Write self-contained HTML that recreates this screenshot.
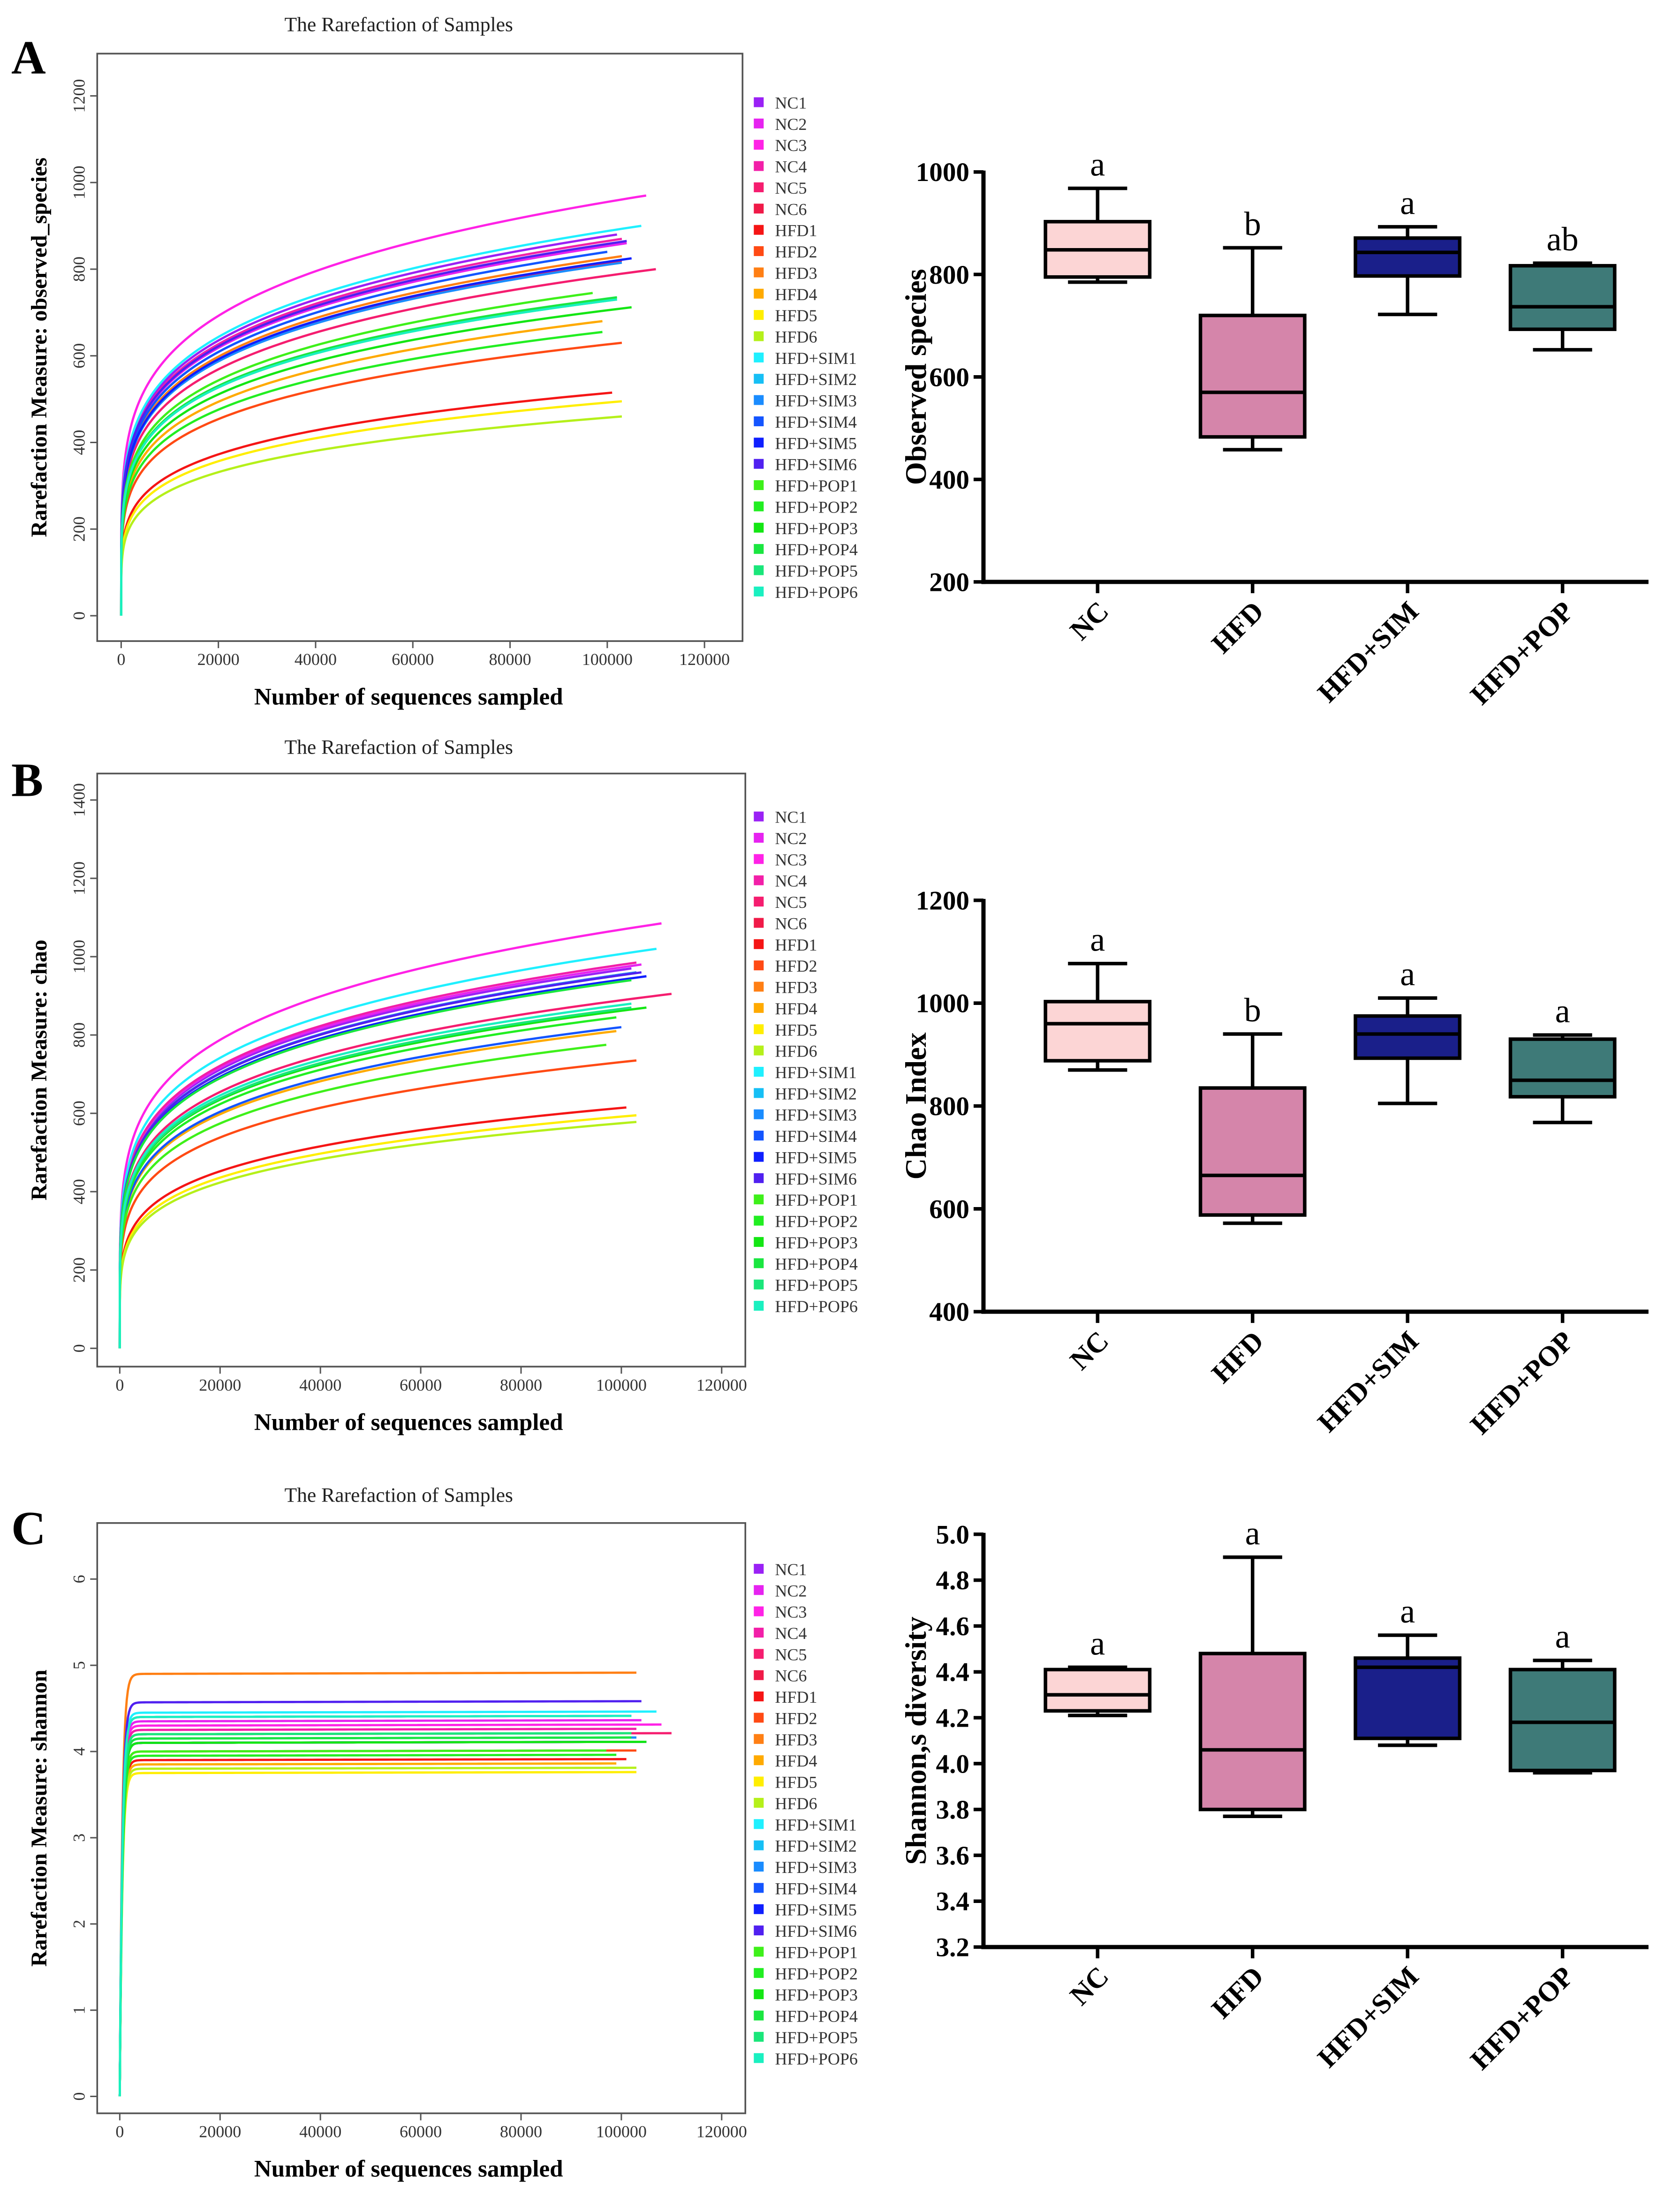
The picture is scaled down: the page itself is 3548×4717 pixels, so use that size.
<!DOCTYPE html>
<html><head><meta charset="utf-8"><style>
html,body{margin:0;padding:0;background:#fff;}
svg{display:block;font-family:"Liberation Serif","DejaVu Serif",serif;}
text{font-family:"Liberation Serif","DejaVu Serif",serif;}
</style></head><body>
<svg id="fig" width="3548" height="4717" viewBox="0 0 1181 1570" xmlns="http://www.w3.org/2000/svg" font-family="Liberation Serif, serif">
<rect width="1181" height="1570" fill="#fff"/>
</svg>
<script>
const samples = ["NC1","NC2","NC3","NC4","NC5","NC6","HFD1","HFD2","HFD3","HFD4","HFD5","HFD6","HFD+SIM1","HFD+SIM2","HFD+SIM3","HFD+SIM4","HFD+SIM5","HFD+SIM6","HFD+POP1","HFD+POP2","HFD+POP3","HFD+POP4","HFD+POP5","HFD+POP6"];
const sampleColors = ["#9a21f5","#e623f0","#ff22e6","#f21fa8","#f51d6f","#f01a48","#f51515","#ff4a14","#ff7f14","#ffaa00","#ffee00","#b5f01a","#1ff0ff","#16bff5","#1a8cff","#1455ff","#0f1fff","#5020f0","#3ef01a","#22ee22","#14e614","#1ae640","#1ae67a","#1af0c0"];
const depthEnds = [102000,104000,108000,103000,110000,103000,101000,103000,103000,99000,103000,103000,107000,100000,103000,100000,105000,104000,97000,99000,105000,102000,102000,102000];
const obsFinal = [880,860,970,870,800,820,515,630,830,680,495,460,900,840,815,840,825,865,745,655,712,735,730,730];
const chaoFinal = [970,980,1085,985,905,960,615,735,960,810,595,578,1020,940,960,820,950,960,775,845,870,940,870,880];
const shanFinal = [4.40,4.35,4.30,4.25,4.20,4.10,3.90,4.00,4.90,3.85,3.75,3.80,4.45,4.20,4.15,4.10,4.10,4.57,4.00,3.95,4.10,4.15,4.20,4.40];
const xTicks = [0,20000,40000,60000,80000,100000,120000];
const groups = ["NC","HFD","HFD+SIM","HFD+POP"];
const groupFill = ["#fcd5d5","#d585aa","#1a1f8a","#3e7a78"];
// [whiskerLow, q1, median, q3, whiskerHigh]
const obsStats = [[785,795,848,903,968],[458,483,570,720,852],[722,797,843,871,893],[653,693,737,817,822]];
const chaoStats = [[870,888,960,1003,1077],[572,588,665,835,940],[805,893,940,975,1010],[768,818,850,930,938]];
const shanStats = [[4.21,4.23,4.30,4.41,4.42],[3.77,3.80,4.06,4.48,4.90],[4.08,4.11,4.42,4.46,4.56],[3.96,3.97,4.18,4.41,4.45]];
const obsLetters = ["a","b","a","ab"];
const chaoLetters = ["a","b","a","a"];
const shanLetters = ["a","a","a","a"];
const obsYTicks = [0,200,400,600,800,1000,1200];
const chaoYTicks = [0,200,400,600,800,1000,1200,1400];
const shanYTicks = [0,1,2,3,4,5,6];
const obsBoxTicks = [200,400,600,800,1000];
const chaoBoxTicks = [400,600,800,1000,1200];
const shanBoxTicks = [3.2,3.4,3.6,3.8,4.0,4.2,4.4,4.6,4.8,5.0];

const NS="http://www.w3.org/2000/svg";
const svg=document.getElementById('fig');
function el(tag,attrs,parent,txt){const e=document.createElementNS(NS,tag);for(const k in attrs)e.setAttribute(k,attrs[k]);if(tag==='text')e.setAttribute('font-family','Liberation Serif, serif');if(txt!==undefined)e.textContent=txt;(parent||svg).appendChild(e);return e;}

function rarefaction(o){
  const g=el('g',{});
  
  
  const xs=v=>o.x0+(v/20000)*o.xstep;
  const ys=v=>o.y0-(v/o.ystepVal)*o.ystep;
  const t=el('text',{x:283,y:o.titleY,'text-anchor':'middle','font-size':14.5,fill:'#222'},g,'The Rarefaction of Samples');
  
  const p=el('text',{x:8,y:o.titleY+30,'font-size':34,'font-weight':'bold'},g,o.letter);
  
  const b=el('rect',{x:o.L,y:o.T,width:o.R-o.L,height:o.B-o.T,fill:'none',stroke:'#555','stroke-width':1.2},g);
  
  xTicks.forEach(v=>{const x=xs(v);el('line',{x1:x,y1:o.B,x2:x,y2:o.B+5,stroke:'#555'},g);
    const tl=el('text',{x:x,y:o.B+17,'text-anchor':'middle','font-size':12,fill:'#333'},g,String(v));
    });
  o.yTicks.forEach(v=>{const y=ys(v);el('line',{x1:o.L,y1:y,x2:o.L-5,y2:y,stroke:'#555'},g);
    const tl=el('text',{x:0,y:0,'text-anchor':'middle','font-size':12,fill:'#333',transform:`translate(${o.L-9},${y}) rotate(-90)`},g,String(v));
    });
  const xl=el('text',{x:290,y:o.B+45,'text-anchor':'middle','font-size':17,'font-weight':'bold'},g,'Number of sequences sampled');
  
  const yl=el('text',{x:0,y:0,'text-anchor':'middle','font-size':16,'font-weight':'bold',transform:`translate(33,${(o.T+o.B)/2}) rotate(-90)`},g,o.ylabel);
  
  samples.forEach((s,i)=>{
    const end=depthEnds[i],fin=o.finals[i];let d='';
    for(let k=0;k<=120;k++){const x=end*Math.pow(k/120,2);const v=o.shape(x,end,fin);d+=(k?'L':'M')+xs(x).toFixed(2)+','+ys(v).toFixed(2);}
    const c=el('path',{d:d,fill:'none',stroke:sampleColors[i],'stroke-width':1.6},g);
    
    const ly=o.legY+i*15.1;
    const sq=el('rect',{x:535,y:ly-8,width:7,height:7,fill:sampleColors[i]},g);
    
    const lt=el('text',{x:550,y:ly,'font-size':12,fill:'#333'},g,s);
    
  });
}
const powShape=(x,end,fin)=>x<=0?0:fin*Math.pow(x/end,0.2);
const powShapeB=(x,end,fin)=>x<=0?0:fin*Math.pow(x/end,0.19);
const expShape=(x,end,fin)=>fin*(1-Math.exp(-x/500))*(1+0.003*(x/end));

rarefaction({name:'rarefaction-observed',letter:'A',titleY:22,L:69,R:527,T:38,B:455,x0:86,xstep:69,y0:437,ystep:61.5,ystepVal:200,yTicks:obsYTicks,finals:obsFinal,shape:powShape,ylabel:'Rarefaction Measure: observed_species',legY:77});
rarefaction({name:'rarefaction-chao',letter:'B',titleY:535,L:69,R:529,T:549,B:970,x0:85,xstep:71.2,y0:957,ystep:55.6,ystepVal:200,yTicks:chaoYTicks,finals:chaoFinal,shape:powShapeB,ylabel:'Rarefaction Measure: chao',legY:584});
rarefaction({name:'rarefaction-shannon',letter:'C',titleY:1066,L:69,R:529,T:1081,B:1500,x0:85,xstep:71.2,y0:1488,ystep:61.2,ystepVal:1,yTicks:shanYTicks,finals:shanFinal,shape:expShape,ylabel:'Rarefaction Measure: shannon',legY:1118});

function boxplot(o){
  const g=el('g',{});
  
  
  const lo=o.ticks[0],hi=o.ticks[o.ticks.length-1];
  const ys=v=>o.B-(v-lo)/(hi-lo)*(o.B-o.T);
  const cx=i=>779+i*110;
  el('line',{x1:o.L,y1:o.T-1,x2:o.L,y2:o.B+1.5,stroke:'#000','stroke-width':3},g);
  el('line',{x1:o.L-1.5,y1:o.B,x2:1170,y2:o.B,stroke:'#000','stroke-width':3},g);
  o.ticks.forEach(v=>{const y=ys(v);el('line',{x1:o.L-7,y1:y,x2:o.L,y2:y,stroke:'#000','stroke-width':2.5},g);
    const tl=el('text',{x:o.L-10,y:y+6.5,'text-anchor':'end','font-size':19,'font-weight':'bold'},g,o.fmt(v));
    });
  const yl=el('text',{x:0,y:0,'text-anchor':'middle','font-size':21,'font-weight':'bold',transform:`translate(657,${(o.T+o.B)/2}) rotate(-90)`},g,o.ylabel);
  
  groups.forEach((gname,i)=>{
    const x=cx(i),s=o.stats[i],w=37;
    el('line',{x1:x,y1:o.B,x2:x,y2:o.B+8,stroke:'#000','stroke-width':2.5},g);
    const xl=el('text',{x:0,y:0,'text-anchor':'end','font-size':20,'font-weight':'bold',transform:`translate(${x+9},${o.B+22}) rotate(-45)`},g,gname);
    
    el('line',{x1:x,y1:ys(s[0]),x2:x,y2:ys(s[4]),stroke:'#000','stroke-width':2.5},g);
    el('line',{x1:x-21,y1:ys(s[0]),x2:x+21,y2:ys(s[0]),stroke:'#000','stroke-width':2.5},g);
    el('line',{x1:x-21,y1:ys(s[4]),x2:x+21,y2:ys(s[4]),stroke:'#000','stroke-width':2.5},g);
    const bx=el('rect',{x:x-w,y:ys(s[3]),width:2*w,height:ys(s[1])-ys(s[3]),fill:groupFill[i],stroke:'#000','stroke-width':2.5},g);
    
    el('line',{x1:x-w,y1:ys(s[2]),x2:x+w,y2:ys(s[2]),stroke:'#000','stroke-width':2.5},g);
    const lt=el('text',{x:x,y:ys(s[4])-9,'text-anchor':'middle','font-size':24},g,o.letters[i]);
    
  });
}
boxplot({name:'boxplot-observed',L:698,T:122,B:413,ticks:obsBoxTicks,stats:obsStats,letters:obsLetters,ylabel:'Observed species',fmt:v=>String(v)});
boxplot({name:'boxplot-chao',L:698,T:639,B:931,ticks:chaoBoxTicks,stats:chaoStats,letters:chaoLetters,ylabel:'Chao Index',fmt:v=>String(v)});
boxplot({name:'boxplot-shannon',L:698,T:1089,B:1382,ticks:shanBoxTicks,stats:shanStats,letters:shanLetters,ylabel:'Shannon,s diversity',fmt:v=>v.toFixed(1)});
</script>
</body></html>
